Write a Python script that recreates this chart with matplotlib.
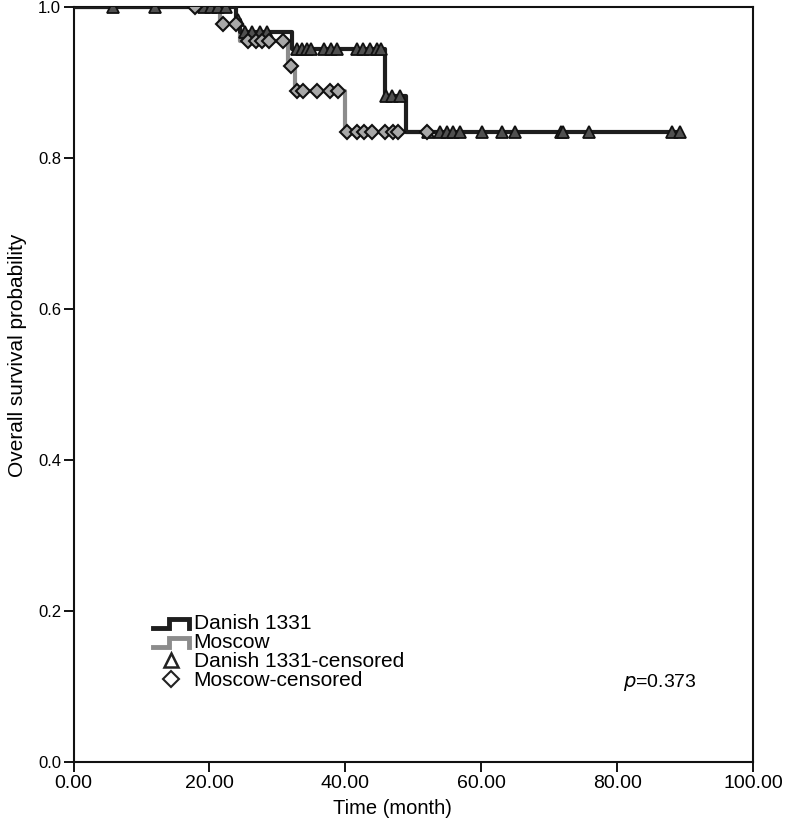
"""
Kaplan-Meier overall survival: Danish 1331 vs Moscow cohorts.
Step curves with censor marks, saved as out.png (787x823).
"""

import matplotlib
matplotlib.use('Agg')
import matplotlib.pyplot as plt
from matplotlib.legend_handler import HandlerBase
from matplotlib.lines import Line2D


# --------------------------------------------------------------------------- #
# Data
# --------------------------------------------------------------------------- #

# event times (months) and survival level after each step
DANISH_T = [0.0, 23.9, 24.5, 32.1, 45.8, 49.0, 89.2]
DANISH_S = [1.0, 0.983, 0.967, 0.944, 0.882, 0.834, 0.834]

MOSCOW_T = [0.0, 21.6, 24.5, 31.5, 32.6, 39.9, 52.0]
MOSCOW_S = [1.0, 0.978, 0.955, 0.922, 0.889, 0.834, 0.834]

# censored observations
DANISH_CENS_T = [5.8, 12.0, 19.2, 20.3, 21.2, 22.4,
                 24.2,
                 25.2, 26.3, 27.5, 28.5,
                 32.9, 33.6, 34.3, 35.0, 36.9, 37.9, 38.8,
                 41.7, 42.6, 43.6, 44.6, 45.3,
                 46.0, 46.9, 48.0,
                 52.1, 53.9, 54.9, 55.8, 56.8, 60.1, 63.0, 64.9,
                 71.8, 72.0, 75.9, 88.0, 89.2]
DANISH_CENS_S = [1.0] * 6 + [0.983] + [0.967] * 4 + [0.944] * 12 + \
                [0.882] * 3 + [0.834] * 13

MOSCOW_CENS_T = [17.9,
                 22.0, 23.9,
                 25.7, 26.8, 27.8, 28.7, 30.8,
                 32.0,
                 32.9, 33.8, 35.9, 37.7, 38.9,
                 40.2, 41.7, 42.8, 43.9, 45.9, 47.0, 47.8, 52.0]
MOSCOW_CENS_S = [1.0] + [0.978] * 2 + [0.955] * 5 + [0.922] + \
                [0.889] * 5 + [0.834] * 8

P_VALUE = '0.373'

DANISH_COLOR = '#1e1e1e'
MOSCOW_COLOR = '#8c8c8c'
FONT = ['Liberation Sans', 'DejaVu Sans']


# --------------------------------------------------------------------------- #
# Legend handle drawn as a little step
# --------------------------------------------------------------------------- #

class StepHandler(HandlerBase):
    def create_artists(self, legend, orig_handle, xdescent, ydescent,
                       width, height, fontsize, trans):
        x0 = -xdescent
        y0 = -ydescent
        xs = [x0, x0 + 0.45 * width, x0 + 0.45 * width,
              x0 + width, x0 + width]
        ys = [y0 + 0.05 * height, y0 + 0.05 * height, y0 + 0.7 * height,
              y0 + 0.7 * height, y0 + 0.05 * height]
        line = Line2D(xs, ys, color=orig_handle.get_color(), lw=3.5,
                      solid_joinstyle='miter', transform=trans)
        return [line]


# --------------------------------------------------------------------------- #
# Plot
# --------------------------------------------------------------------------- #

fig = plt.figure(figsize=(7.87, 8.23), dpi=100, facecolor='white')
ax = fig.add_axes([0.0934, 0.0741, 0.8635, 0.9174])

l_mos, = ax.step(MOSCOW_T, MOSCOW_S, where='post', color=MOSCOW_COLOR,
                 lw=3.0, zorder=2)
l_dan, = ax.step(DANISH_T, DANISH_S, where='post', color=DANISH_COLOR,
                 lw=3.0, zorder=3)

ax.plot(DANISH_CENS_T, DANISH_CENS_S, ls='none', marker='^',
        ms=8.5, mfc='#505050', mec='#111111', mew=1.3, zorder=4)
ax.plot(MOSCOW_CENS_T, MOSCOW_CENS_S, ls='none', marker='D',
        ms=7.5, mfc='#a8a8a8', mec='#111111', mew=1.5, zorder=5)

ax.set_xlim(0, 100)
ax.set_ylim(0, 1.0)
ax.set_xticks(range(0, 101, 20))
ax.set_xticklabels([f'{v:.2f}' for v in range(0, 101, 20)],
                   family=FONT, fontsize=14)
yt = [0.0, 0.2, 0.4, 0.6, 0.8, 1.0]
ax.set_yticks(yt)
ax.set_yticklabels([f'{v:.1f}' for v in yt], family=FONT, fontsize=12)
ax.tick_params(direction='out', length=7, width=1.3, pad=2)

for sp in ax.spines.values():
    sp.set_linewidth(1.5)
    sp.set_color('#111111')

ax.set_xlabel('Time (month)', family=FONT, fontsize=14.5)
ax.xaxis.set_label_coords(0.469, -0.049)
ax.set_ylabel('Overall survival probability', family=FONT, fontsize=15)
ax.yaxis.set_label_coords(-0.069, 0.539)

# legend
hollow_tri = Line2D([], [], ls='none', marker='^', ms=10, mfc='white',
                    mec='#222222', mew=1.8)
hollow_dia = Line2D([], [], ls='none', marker='D', ms=8, mfc='white',
                    mec='#222222', mew=1.5)
leg = ax.legend([l_dan, l_mos, hollow_tri, hollow_dia],
                ['Danish 1331', 'Moscow', 'Danish 1331-censored',
                 'Moscow-censored'],
                handler_map={l_dan: StepHandler(), l_mos: StepHandler()},
                loc='upper left', bbox_to_anchor=(0.117, 0.196),
                frameon=False, labelspacing=0.0,
                handlelength=1.75, handletextpad=0.2, borderaxespad=0,
                borderpad=0, prop={'family': FONT, 'size': 15})

ax.text(80.8, 0.105, r'$\it{p}$' + f'={P_VALUE}', family=FONT,
        fontsize=14, ha='left', va='center')

fig.savefig('out.png', dpi=100, facecolor='white')
